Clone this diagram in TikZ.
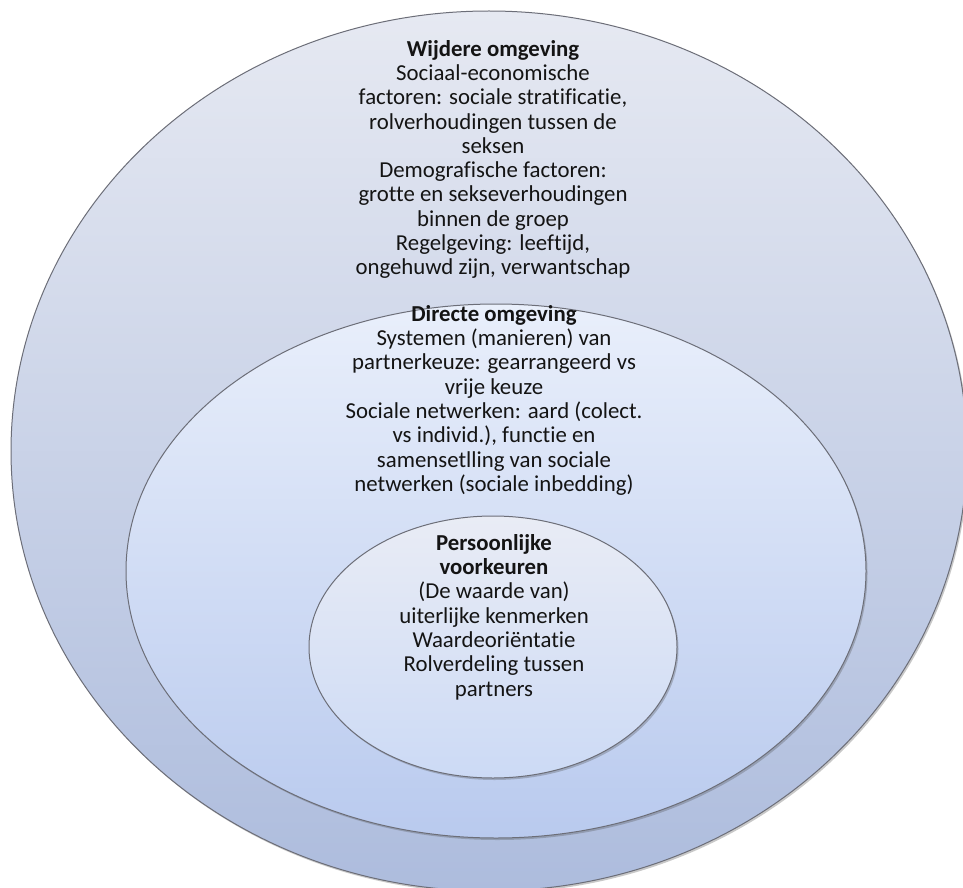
\documentclass[tikz,border=0pt]{standalone}
\usepackage{fontspec}
\setmainfont[Ligatures=NoCommon]{Carlito}
\usetikzlibrary{shapes.geometric,shadows}
\definecolor{ringline}{HTML}{6C6E78}
\definecolor{outertop}{HTML}{E6E9F2}
\definecolor{outerbot}{HTML}{ADBCDD}
\definecolor{midtop}{HTML}{E9EFFB}
\definecolor{midbot}{HTML}{B9CAEE}
\definecolor{intop}{HTML}{E9ECF5}
\definecolor{inbot}{HTML}{CCDAF5}
\definecolor{txt}{HTML}{141414}
\tikzset{
  ring/.style={ellipse, draw=ringline, line width=1pt, inner sep=0pt,
    drop shadow={shadow xshift=1.5pt, shadow yshift=-2pt, opacity=0.3, fill=black!70}},
  blocktext/.style={align=center, inner sep=0pt, text=txt, anchor=north,
    font=\fontsize{22.8}{24.3}\selectfont}
}
\begin{document}
\begin{tikzpicture}[x=1pt,y=-1pt]
\useasboundingbox (0,0) rectangle (963,888);
\fill[white] (0,0) rectangle (963,888);
\clip (0,0) rectangle (963,888);
\node[ring, top color=outertop, bottom color=outerbot,
      minimum width=956pt, minimum height=880pt] (outer) at (489,451) {};
\node[ring, top color=midtop, bottom color=midbot,
      minimum width=740pt, minimum height=534pt] (middle) at (496,571) {};
\node[ring, top color=intop, bottom color=inbot,
      minimum width=368pt, minimum height=262pt] (inner) at (493,647) {};
\node[blocktext] (outertext) at (493,40) {\textbf{Wijdere omgeving}\\
Sociaal-economische\\
factoren: sociale stratificatie,\\
rolverhoudingen tussen de\\
seksen\\
Demografische factoren:\\
grotte en sekseverhoudingen\\
binnen de groep\\
Regelgeving: leeftijd,\\
ongehuwd zijn, verwantschap};
\node[blocktext] (middletext) at (494,305) {\textbf{Directe omgeving}\\
Systemen (manieren) van\\
partnerkeuze: gearrangeerd vs\\
vrije keuze\\
Sociale netwerken: aard (colect.\\
vs individ.), functie en\\
samensetlling van sociale\\
netwerken (sociale inbedding)};
\node[blocktext] (innertext) at (494,534) {\textbf{Persoonlijke}\\
\textbf{voorkeuren}\\
(De waarde van)\\
uiterlijke kenmerken\\
Waardeoriëntatie\\
Rolverdeling tussen\\
partners};
\end{tikzpicture}
\end{document}
